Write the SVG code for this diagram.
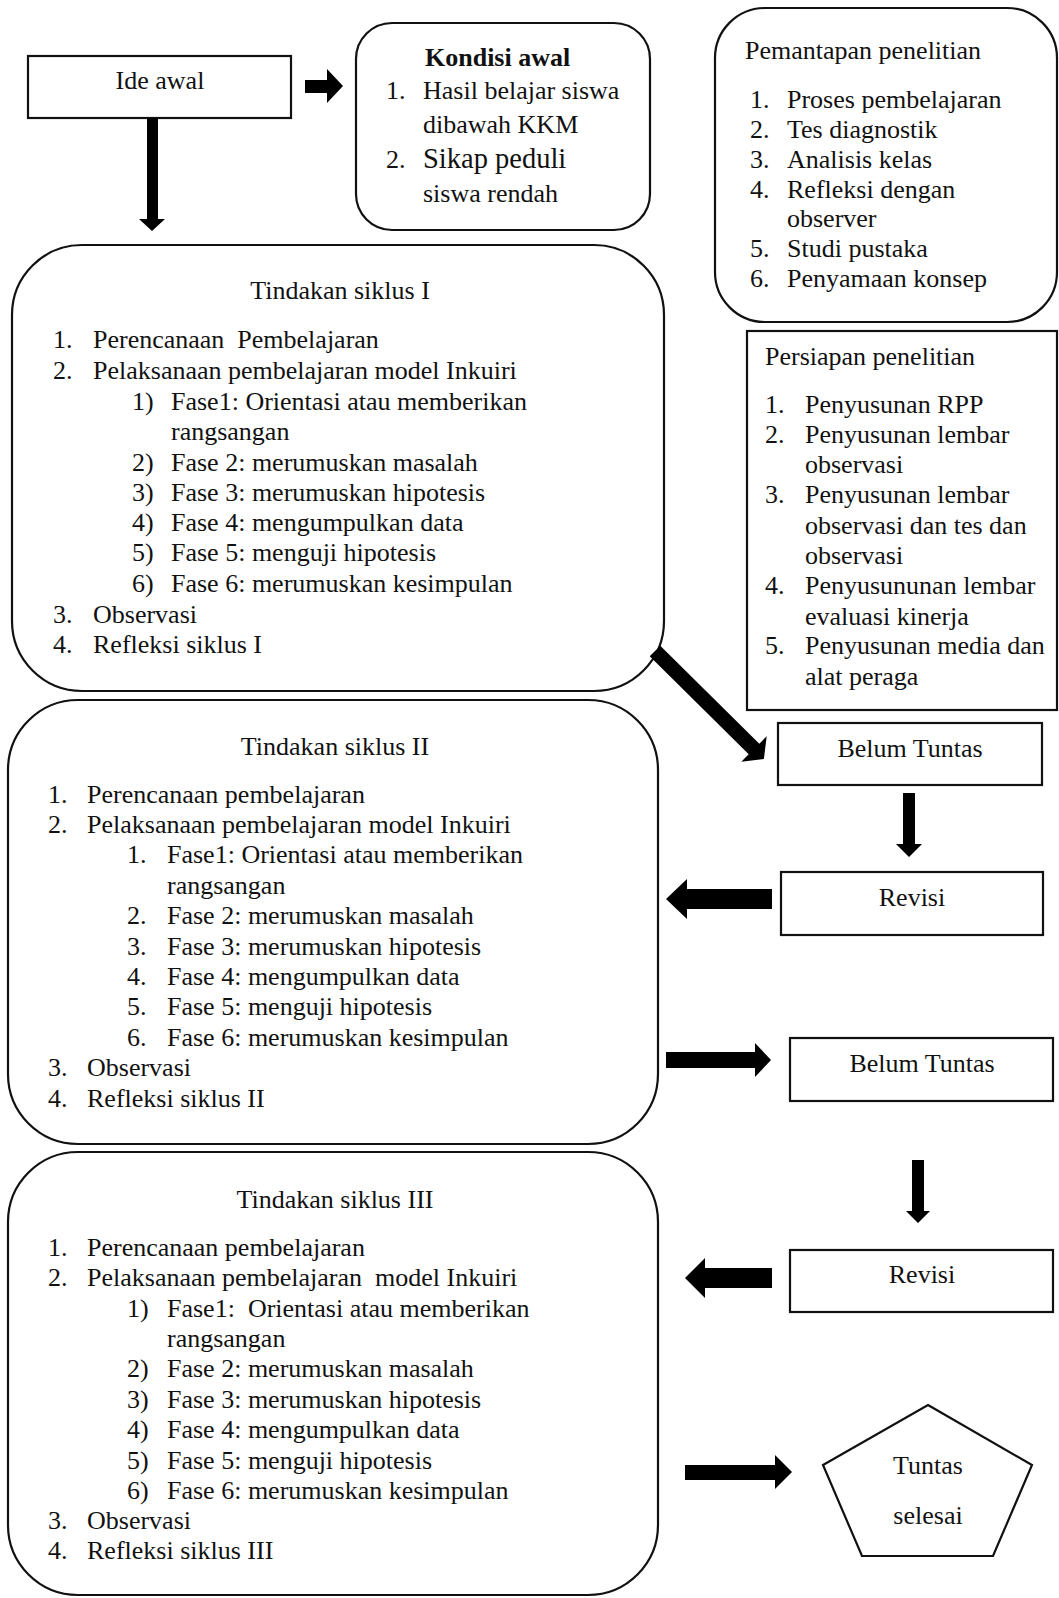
<svg xmlns="http://www.w3.org/2000/svg" width="1059" height="1598" viewBox="0 0 1059 1598">
<style>
text{font-family:"Liberation Serif","Times New Roman",serif;font-size:26px;fill:#111;}
.box{fill:#fff;stroke:#111;stroke-width:2.2;}
.c{text-anchor:middle;}
.b{font-weight:bold;}
.big{font-size:28.5px;}
.arrow{fill:#000;stroke:none;}
</style>
<rect width="1059" height="1598" fill="#fff"/>

<g id="ide-awal">
<rect class="box" x="28" y="56" width="263" height="62"/>
<text class="c" x="160" y="89">Ide awal</text>
</g>

<g id="kondisi-awal">
<rect class="box" x="356" y="23" width="294" height="207" rx="36" ry="36"/>
<text class="b" x="425" y="66">Kondisi awal</text>
<text x="386" y="99">1.</text><text x="423" y="99">Hasil belajar siswa</text>
<text x="423" y="133">dibawah KKM</text>
<text x="386" y="168">2.</text><text class="big" x="423" y="168">Sikap peduli</text>
<text x="423" y="202">siswa rendah</text>
</g>

<g id="pemantapan">
<rect class="box" x="715" y="8" width="342" height="314" rx="50" ry="50"/>
<text x="745" y="59">Pemantapan penelitian</text>
<text x="750" y="108">1.</text><text x="787" y="108">Proses pembelajaran</text>
<text x="750" y="138">2.</text><text x="787" y="138">Tes diagnostik</text>
<text x="750" y="168">3.</text><text x="787" y="168">Analisis kelas</text>
<text x="750" y="198">4.</text><text x="787" y="198">Refleksi dengan</text>
<text x="787" y="227">observer</text>
<text x="750" y="257">5.</text><text x="787" y="257">Studi pustaka</text>
<text x="750" y="287">6.</text><text x="787" y="287">Penyamaan konsep</text>
</g>

<g id="persiapan">
<rect class="box" x="747" y="331" width="310" height="379"/>
<text x="765" y="365">Persiapan penelitian</text>
<text x="765" y="413">1.</text><text x="805" y="413">Penyusunan RPP</text>
<text x="765" y="443">2.</text><text x="805" y="443">Penyusunan lembar</text>
<text x="805" y="473">observasi</text>
<text x="765" y="503">3.</text><text x="805" y="503">Penyusunan lembar</text>
<text x="805" y="534">observasi dan tes dan</text>
<text x="805" y="564">observasi</text>
<text x="765" y="594">4.</text><text x="805" y="594">Penyusununan lembar</text>
<text x="805" y="625">evaluasi kinerja</text>
<text x="765" y="654">5.</text><text x="805" y="654">Penyusunan media dan</text>
<text x="805" y="685">alat peraga</text>
</g>

<g id="siklus-1">
<rect class="box" x="12" y="245" width="652" height="446" rx="70" ry="70"/>
<text class="c" x="340" y="299">Tindakan siklus I</text>
<text x="53" y="348">1.</text><text x="93" y="348" xml:space="preserve">Perencanaan  Pembelajaran</text>
<text x="53" y="379">2.</text><text x="93" y="379">Pelaksanaan pembelajaran model Inkuiri</text>
<text x="132" y="410">1)</text><text x="171" y="410">Fase1: Orientasi atau memberikan</text>
<text x="171" y="440">rangsangan</text>
<text x="132" y="471">2)</text><text x="171" y="471">Fase 2: merumuskan masalah</text>
<text x="132" y="501">3)</text><text x="171" y="501">Fase 3: merumuskan hipotesis</text>
<text x="132" y="531">4)</text><text x="171" y="531">Fase 4: mengumpulkan data</text>
<text x="132" y="561">5)</text><text x="171" y="561">Fase 5: menguji hipotesis</text>
<text x="132" y="592">6)</text><text x="171" y="592">Fase 6: merumuskan kesimpulan</text>
<text x="53" y="623">3.</text><text x="93" y="623">Observasi</text>
<text x="53" y="653">4.</text><text x="93" y="653">Refleksi siklus I</text>
</g>

<g id="belum-tuntas-1">
<rect class="box" x="778" y="723" width="264" height="62"/>
<text class="c" x="910" y="757">Belum Tuntas</text>
</g>

<g id="revisi-1">
<rect class="box" x="781" y="872" width="262" height="63"/>
<text class="c" x="912" y="906">Revisi</text>
</g>

<g id="siklus-2">
<rect class="box" x="8" y="700" width="650" height="444" rx="70" ry="70"/>
<text class="c" x="335" y="755">Tindakan siklus II</text>
<text x="48" y="803">1.</text><text x="87" y="803">Perencanaan pembelajaran</text>
<text x="48" y="833">2.</text><text x="87" y="833">Pelaksanaan pembelajaran model Inkuiri</text>
<text x="127" y="863">1.</text><text x="167" y="863">Fase1: Orientasi atau memberikan</text>
<text x="167" y="894">rangsangan</text>
<text x="127" y="924">2.</text><text x="167" y="924">Fase 2: merumuskan masalah</text>
<text x="127" y="955">3.</text><text x="167" y="955">Fase 3: merumuskan hipotesis</text>
<text x="127" y="985">4.</text><text x="167" y="985">Fase 4: mengumpulkan data</text>
<text x="127" y="1015">5.</text><text x="167" y="1015">Fase 5: menguji hipotesis</text>
<text x="127" y="1046">6.</text><text x="167" y="1046">Fase 6: merumuskan kesimpulan</text>
<text x="48" y="1076">3.</text><text x="87" y="1076">Observasi</text>
<text x="48" y="1107">4.</text><text x="87" y="1107">Refleksi siklus II</text>
</g>

<g id="belum-tuntas-2">
<rect class="box" x="790" y="1038" width="263" height="63"/>
<text class="c" x="922" y="1072">Belum Tuntas</text>
</g>

<g id="revisi-2">
<rect class="box" x="790" y="1250" width="263" height="62"/>
<text class="c" x="922" y="1283">Revisi</text>
</g>

<g id="siklus-3">
<rect class="box" x="8" y="1152" width="650" height="443" rx="70" ry="70"/>
<text class="c" x="335" y="1208">Tindakan siklus III</text>
<text x="48" y="1256">1.</text><text x="87" y="1256">Perencanaan pembelajaran</text>
<text x="48" y="1286">2.</text><text x="87" y="1286" xml:space="preserve">Pelaksanaan pembelajaran  model Inkuiri</text>
<text x="127" y="1317">1)</text><text x="167" y="1317" xml:space="preserve">Fase1:  Orientasi atau memberikan</text>
<text x="167" y="1347">rangsangan</text>
<text x="127" y="1377">2)</text><text x="167" y="1377">Fase 2: merumuskan masalah</text>
<text x="127" y="1408">3)</text><text x="167" y="1408">Fase 3: merumuskan hipotesis</text>
<text x="127" y="1438">4)</text><text x="167" y="1438">Fase 4: mengumpulkan data</text>
<text x="127" y="1469">5)</text><text x="167" y="1469">Fase 5: menguji hipotesis</text>
<text x="127" y="1499">6)</text><text x="167" y="1499">Fase 6: merumuskan kesimpulan</text>
<text x="48" y="1529">3.</text><text x="87" y="1529">Observasi</text>
<text x="48" y="1559">4.</text><text x="87" y="1559">Refleksi siklus III</text>
</g>

<g id="tuntas-selesai">
<polygon class="box" points="928,1405 1032,1465 993,1556 862,1556 823,1465"/>
<text class="c" x="928" y="1474">Tuntas</text>
<text class="c" x="928" y="1524">selesai</text>
</g>

<g id="connectors">
<polygon class="arrow" points="305,80 327,80 327,69 343,86 327,103 327,93 305,93"/>
<polygon class="arrow" points="147,118 158,118 158,219 165,219 152,231 139,219 147,219"/>
<polygon class="arrow" points="660.3,645.7 759.3,743.7 766.7,736.3 763.9,758.9 741.3,761.7 748.7,754.3 649.7,656.3"/>
<polygon class="arrow" points="903,793 915,793 915,844 922,844 909,857 896,844 903,844"/>
<polygon class="arrow" points="772,889 687,889 687,879 666,899 687,919 687,909 772,909"/>
<polygon class="arrow" points="666,1052 755,1052 755,1043 771,1060 755,1077 755,1068 666,1068"/>
<polygon class="arrow" points="912,1160 924,1160 924,1211 930,1211 918,1223 906,1211 912,1211"/>
<polygon class="arrow" points="772,1268 705,1268 705,1258 685,1278 705,1298 705,1288 772,1288"/>
<polygon class="arrow" points="685,1465 775,1465 775,1455 792,1472 775,1489 775,1480 685,1480"/>
</g>
</svg>
